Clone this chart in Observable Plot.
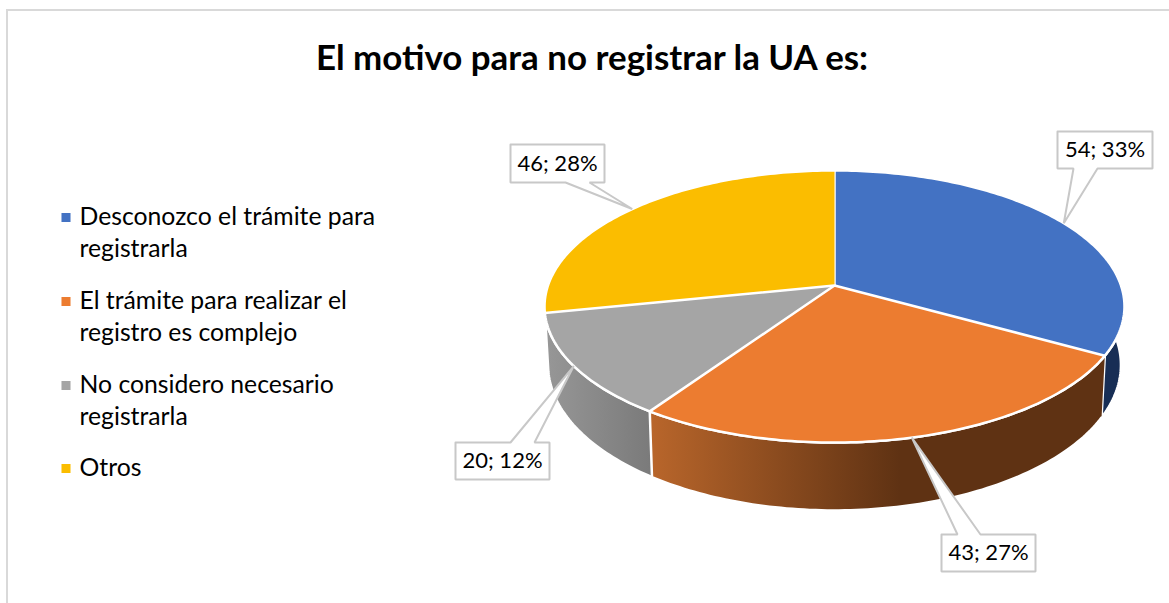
<!doctype html>
<html lang="es">
<head>
<meta charset="utf-8">
<script src="https://cdn.jsdelivr.net/npm/d3@7"></script>
<script src="https://cdn.jsdelivr.net/npm/@observablehq/plot@0.6"></script>
<style>
  html, body { margin: 0; background: #fff; }
  #frame { position: relative; width: 1163px; height: 592px; margin: 9px 0 0 6px; border-left: 2px solid #d9d9d9; border-top: 2px solid #d9d9d9; overflow: hidden; }
  #title { width: 1168px; height: 92px; text-align: center; font: bold 34.9px/92px Lato, sans-serif; color: #000; white-space: nowrap; }
  svg { display: block; }
</style>
</head>
<body>
<div id="frame">
  <div id="title">El motivo para no registrar la UA es:</div>
  <div id="chart"></div>
</div>
<script>
// Data
const categories = ["Desconozco el trámite para registrarla", "El trámite para realizar el registro es complejo", "No considero necesario registrarla", "Otros"];
const legendLines = [["Desconozco el trámite para", "registrarla"], ["El trámite para realizar el", "registro es complejo"], ["No considero necesario", "registrarla"], ["Otros"]];
const values = [54, 43, 20, 46];
const percents = [33, 27, 12, 28];

// Styles and layout
const colors = ["#4372C3", "#EC7C30", "#A5A5A5", "#FBBD00"];
const wallStops = [["#182e55", "#182e55", 1], ["#b9662b", "#5f3213", 0.55], ["#979797", "#7a7a7a", 1], ["#7f6000", "#7f6000", 1]];
const wallOrder = [3, 0, 2, 1];
const legendY = [217, 301, 385, 468];
const boxes = [
  {x1: 1057, x2: 1152, y1: 131, y2: 168, side: "bottom", b1: 1073, b2: 1097},
  {x1: 941, x2: 1035, y1: 534, y2: 571, side: "top", b1: 957, b2: 980},
  {x1: 455, x2: 549, y1: 442, y2: 479, side: "top", b1: 510, b2: 534},
  {x1: 510, x2: 604, y1: 144, y2: 182, side: "bottom", b1: 565, b2: 589}
];
const top3d = {cx: 834, cy: 285, sx: 286.5, sy: 132.8, k: 0.1544};
const low3d = {cx: 834, cy: 342, sx: 283, sy: 142, k: 0.1544};
const originX = 8, originY = 103, W = 1161, H = 500;

// Slice angles derived from the values (clockwise from the back of the pie)
const total = d3.sum(values);
const cumulative = d3.cumsum(values);
const angles = values.map((v, i) => [(cumulative[i] - v) / total * 2 * Math.PI, cumulative[i] / total * 2 * Math.PI]);
const project = (a, p) => {
  const u = Math.sin(a), v = Math.cos(a), w = 1 + p.k * v;
  return {x: p.cx + p.sx * u / w, y: p.cy - p.sy * v / w};
};
const arc = ([a0, a1], p) => {
  const n = Math.max(2, Math.ceil((a1 - a0) / (Math.PI / 180)));
  return d3.range(n + 1).map(j => project(a0 + (a1 - a0) * j / n, p));
};

const faces = categories.flatMap((c, i) =>
  [{x: top3d.cx, y: top3d.cy}, ...arc(angles[i], top3d)].map(d => ({...d, category: c})));

const wallMarks = wallOrder.map(i => Plot.line(
  [...arc(angles[i], top3d), ...arc(angles[i], low3d).reverse()],
  {x: "x", y: "y", fill: `url(#wall${i})`, stroke: "#fff", strokeWidth: 2.5, strokeLinejoin: "round"}
));

const callouts = boxes.flatMap((b, i) => {
  const tip = project((angles[i][0] + angles[i][1]) / 2, top3d);
  const pts = b.side === "bottom"
    ? [[b.x1, b.y1], [b.x2, b.y1], [b.x2, b.y2], [b.b2, b.y2], [tip.x, tip.y], [b.b1, b.y2], [b.x1, b.y2]]
    : [[b.x1, b.y1], [b.b1, b.y1], [tip.x, tip.y], [b.b2, b.y1], [b.x2, b.y1], [b.x2, b.y2], [b.x1, b.y2]];
  return [...pts, pts[0]].map(([x, y]) => ({x, y, id: i}));
});
const labels = boxes.map((b, i) => ({x: (b.x1 + b.x2) / 2, y: (b.y1 + b.y2) / 2, text: `${values[i]}; ${percents[i]}%`}));

const legendRows = legendLines.flatMap((lines, i) => lines.map((t, j) => ({t, y: legendY[i] + j * 32})));
const legendDots = categories.map((c, i) => ({c, y: legendY[i]}));

const defs = () => {
  const d = d3.create("svg:defs");
  wallStops.forEach(([a, b, end], i) => {
    const g = d.append("linearGradient").attr("id", `wall${i}`);
    g.append("stop").attr("offset", 0).attr("stop-color", a);
    g.append("stop").attr("offset", end).attr("stop-color", b);
  });
  return d.node();
};

const plot = Plot.plot({
  width: W, height: H, margin: 0,
  style: {fontFamily: "Lato, sans-serif", background: "#fff", color: "#000"},
  x: {domain: [originX, originX + W], range: [0, W], axis: null},
  y: {domain: [originY, originY + H], range: [0, H], axis: null},
  color: {domain: categories, range: colors},
  marks: [
    defs,
    ...wallMarks,
    Plot.line(faces, {x: "x", y: "y", z: "category", fill: "category", stroke: "#fff", strokeWidth: 2.5, strokeLinejoin: "round"}),
    Plot.line(callouts, {x: "x", y: "y", z: "id", fill: "#fff", stroke: "#c8c8c8", strokeWidth: 2, strokeLinejoin: "miter"}),
    Plot.text(labels, {x: "x", y: "y", text: "text", fontSize: 22, fill: "#000", lineAnchor: "middle"}),
    Plot.dot(legendDots, {x: 65.5, y: "y", symbol: "square", r: 5.1, fill: "c"}),
    Plot.text(legendRows, {x: 79, y: "y", text: "t", textAnchor: "start", fontSize: 24.75, fill: "#000", lineAnchor: "middle"})
  ]
});
document.getElementById("chart").append(plot);
</script>
</body>
</html>
